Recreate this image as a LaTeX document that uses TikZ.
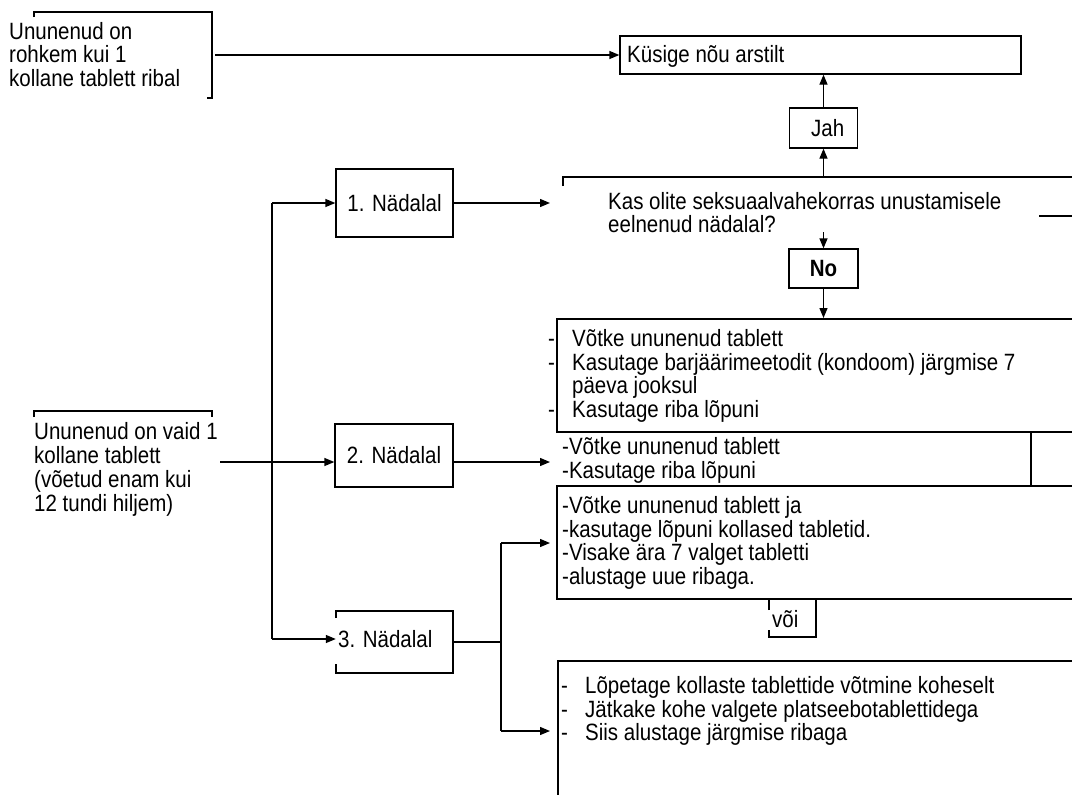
\documentclass[tikz,border=0pt]{standalone}
\usepackage{fontspec}
\setmainfont{Liberation Sans}
\usetikzlibrary{arrows.meta}
\newcommand{\vtxt}[1]{\scalebox{1}[1.15]{\begin{tabular}{@{}l@{}}#1\end{tabular}}}
\newcommand{\vone}[1]{\scalebox{1}[1.15]{#1}}
\begin{document}
\begin{tikzpicture}[x=1pt,y=-1pt,
  ln/.style={line width=1.3pt},
  arr/.style={line width=1.3pt,-{Triangle[length=10pt,width=8pt]}},
  bx/.style={draw,line width=1.3pt,rectangle,inner sep=0pt,font=\fontsize{20.5}{19.8}\selectfont},
  txt/.style={inner sep=0pt,anchor=north west,font=\fontsize{20.5}{19.8}\selectfont},
  one/.style={inner sep=0pt,anchor=base west,font=\fontsize{20.5}{19.8}\selectfont},
]
\useasboundingbox (0,0) rectangle (1072,795);

% ---- full boxes
\node[bx,minimum width=401pt,minimum height=38pt] (kus) at (820.5,55) {};
\node[one] (kust) at (627,62) {\vone{Küsige nõu arstilt}};
\node[bx,minimum width=68pt,minimum height=40pt] (jah) at (823.5,128) {};
\node[one] (jaht) at (811,136) {\vone{Jah}};
\node[bx,minimum width=69pt,minimum height=39pt,font=\fontsize{20.5}{19.8}\selectfont\bfseries] (no) at (823.5,268.5) {\vone{No}};
\node[bx,minimum width=117pt,minimum height=68pt] (n1) at (394.5,203) {\vone{1. Nädalal}};
\node[bx,minimum width=118pt,minimum height=63pt] (n2) at (394,455.5) {\vone{2. Nädalal}};
\node[inner sep=0pt,minimum width=117pt,minimum height=62pt] (n3) at (394.5,642) {};
\node[one] (n3t) at (338,647) {\vone{3. Nädalal}};

% ---- partial box outlines
\draw[ln] (34,17) -- (34,12) -- (212,12) -- (212,98) -- (207,98);
\draw[ln] (34,417) -- (34,411) -- (212,411) -- (212,417);
\draw[ln] (563,186) -- (563,177) -- (1072,177);
\draw[ln] (1039,216) -- (1072,216);
\draw[ln] (1072,319) -- (557,319) -- (557,432) -- (1072,432);
\draw[ln] (1031,432) -- (1031,486);
\draw[ln] (1072,486) -- (557,486) -- (557,599) -- (1072,599);
\draw[ln] (769,610) -- (769,599) -- (816,599) -- (816,637) -- (769,637) -- (769,630);
\draw[ln] (1072,661) -- (558,661) -- (558,796);
\draw[ln] (336,618) -- (336,611) -- (453,611) -- (453,673) -- (336,673) -- (336,664);

% ---- texts
\node[txt] (ta) at (9,21.8) {\vtxt{Ununenud on\\rohkem kui 1\\kollane tablett ribal}};
\node[txt] (tf) at (34,422) {\vtxt{Ununenud on vaid 1\\kollane tablett\\(võetud enam kui\\12 tundi hiljem)}};
\node[txt] (tq) at (608,191.8) {\vtxt{Kas olite seksuaalvahekorras unustamisele\\eelnenud nädalal?}};
\node[txt] (tb) at (548,328.8) {\vtxt{\makebox[24pt][l]{-}Võtke ununenud tablett\\
\makebox[24pt][l]{-}Kasutage barjäärimeetodit (kondoom) järgmise 7\\
\hspace*{24pt}päeva jooksul\\
\makebox[24pt][l]{-}Kasutage riba lõpuni}};
\node[txt] (tc) at (562,437) {\vtxt{-Võtke ununenud tablett\\-Kasutage riba lõpuni}};
\node[txt] (td) at (562,495.8) {\vtxt{-Võtke ununenud tablett ja\\-kasutage lõpuni kollased tabletid.\\-Visake ära 7 valget tabletti\\-alustage uue ribaga.}};
\node[txt] (te) at (561,675.8) {\vtxt{\makebox[24pt][l]{-}Lõpetage kollaste tablettide võtmine koheselt\\
\makebox[24pt][l]{-}Jätkake kohe valgete platseebotablettidega\\
\makebox[24pt][l]{-}Siis alustage järgmise ribaga}};
\node[one] (voi) at (772,627) {\vone{või}};

% ---- coordinates
\coordinate (aR) at (215,55);
\coordinate (qT) at (823.5,177);
\coordinate (qB) at (823.5,232);
\coordinate (bT) at (823.5,318);
\coordinate (qL) at (550,203);
\coordinate (fR) at (220,462);
\coordinate (cL) at (550,462);
\coordinate (s1) at (272,203);
\coordinate (s3) at (272,639);
\coordinate (sp) at (501,642);
\coordinate (spT) at (501,543);
\coordinate (spB) at (501,731);
\coordinate (dL) at (550,543);
\coordinate (eL) at (550,731);

% ---- connectors
\draw[arr] (aR) -- (kus.west);
\draw[arr] (jah.north) -- (jah.north |- kus.south);
\draw[arr] (qT) -- (jah.south);
\draw[arr] (qB) -- (no.north);
\draw[arr] (no.south) -- (bT);
\draw[ln] (s1) -- (s3);
\draw[arr] (s1) -- (s1 -| n1.west);
\draw[arr] (s3) -- (s3 -| n3.west);
\draw[arr] (fR) -- (fR -| n2.west);
\draw[arr] (n1.east |- qL) -- (qL);
\draw[arr] (n2.east |- cL) -- (cL);
\draw[ln] (n3.east |- sp) -- (sp);
\draw[ln] (spT) -- (spB);
\draw[arr] (spT) -- (dL);
\draw[arr] (spB) -- (eL);
\end{tikzpicture}
\end{document}
